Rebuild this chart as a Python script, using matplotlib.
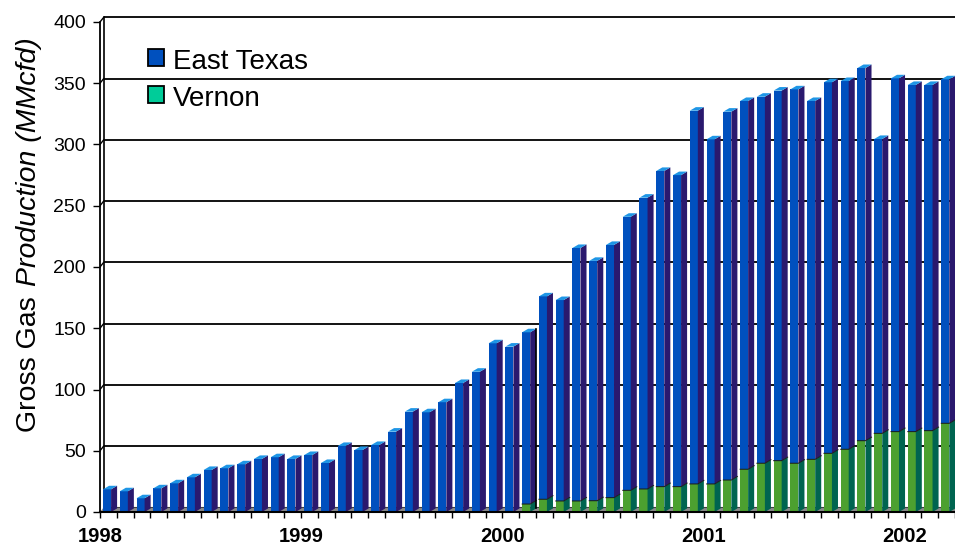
import matplotlib
matplotlib.use('Agg')
import matplotlib.pyplot as plt
from matplotlib.patches import Polygon, Rectangle
import numpy as np

plt.rcParams['font.family'] = ['Liberation Sans', 'DejaVu Sans']

# ---------------- data ----------------
years = ['1998', '1999', '2000', '2001', '2002']
year_index = [0, 12, 24, 36, 48]          # month index (Jan of each year)
y_ticks = [0, 50, 100, 150, 200, 250, 300, 350, 400]

# monthly gross gas production, Jan 1998 - Mar 2002 (MMcfd)
vernon = [0, 0, 0, 0, 0, 0, 0, 0, 0, 0, 0, 0,
          0, 0, 0, 0, 0, 0, 0, 0, 0, 0, 0, 0,
          0, 6.5, 10.4, 9, 9, 9.2, 11.7, 17.7, 18.8, 20.7, 20.7, 22.9,
          22.9, 26.1, 34.9, 39.8, 41.9, 39.8, 43, 47.9, 51.2, 58.2, 64.2, 65.6,
          65.6, 66.4, 72.4]
east_texas = [18.5, 16.9, 11.2, 19.3, 23.4, 28.3, 34.3, 35.7, 38.9, 43.3, 44.7, 43.3,
              46.5, 40, 53.9, 50.6, 54.7, 65.6, 81.9, 81.4, 89.6, 105.3, 114.5, 137.7,
              135, 140.2, 165.6, 164, 206.5, 195.8, 206.3, 223.3, 237.8, 257.7, 254.3, 304.7,
              281.3, 300.7, 300.6, 299.2, 302.1, 305.2, 292.5, 302.9, 300.6, 304.2, 240.3, 288.4,
              283, 282.2, 280.8]

series_names = ['East Texas', 'Vernon']

# ---------------- style ----------------
BLUE = '#0050BE'
BLUE_SIDE = '#2A196E'
BLUE_TOP = '#1E96E6'
GREEN = '#4CA030'
GREEN_SIDE = '#006450'
LEG_BLUE = '#0050BE'
LEG_TEAL = '#00CC99'

W, H = 955, 545
fig = plt.figure(figsize=(W / 100, H / 100), dpi=100)

PX_PER_UNIT = 1.225
Y0_PX = 512
YMAX = 405
ax = fig.add_axes([100 / W, (H - Y0_PX) / H, 855 / W, YMAX * PX_PER_UNIT / H])

n = len(east_texas)
ax.set_xlim(0, n)
ax.set_ylim(0, YMAX)

# 3D offsets (data units)
dx, dy = 0.36, 2.9          # bar depth
dxw, dyw = 0.22, 3.8        # wall / floor depth

# back wall gridlines
for v in y_ticks[1:]:
    ax.plot([dxw, n + 1], [v + dyw, v + dyw], color='black', lw=1.3, zorder=1,
            solid_capstyle='butt', clip_on=True)
    ax.plot([0, dxw], [v, v + dyw], color='black', lw=1.0, zorder=1)
ax.plot([dxw, dxw], [dyw, 400 + dyw], color='black', lw=1.2, zorder=1)

# floor
floor = Polygon([(0, 0), (n + 1, 0), (n + 1 + dxw, dyw), (dxw, dyw)], closed=True,
                facecolor='#8a8a8a', edgecolor='none', zorder=1.5)
ax.add_patch(floor)
ax.plot([dxw, n + 1], [dyw, dyw], color='#404040', lw=0.8, zorder=1.6)

# bars
x_left = np.arange(n) + 0.18
bw = 0.48
vern = np.array(vernon, dtype=float)
et = np.array(east_texas, dtype=float)
tot = vern + et

ax.bar(x_left, vern, width=bw, align='edge', color=GREEN, zorder=3, linewidth=0)
ax.bar(x_left, et, bottom=vern, width=bw, align='edge', color=BLUE, zorder=3, linewidth=0)

for k in range(n):
    xl = x_left[k]
    xr = xl + bw
    g = vern[k]
    t = tot[k]
    if g > 0:
        ax.add_patch(Polygon([(xr, 0), (xr, g), (xr + dx, g + dy), (xr + dx, dy)],
                             closed=True, facecolor=GREEN_SIDE, edgecolor='none', zorder=3))
    ax.add_patch(Polygon([(xr, g), (xr, t), (xr + dx, t + dy), (xr + dx, g + dy)],
                         closed=True, facecolor=BLUE_SIDE, edgecolor='none', zorder=3))
    ax.add_patch(Polygon([(xl, t), (xr, t), (xr + dx, t + dy), (xl + dx, t + dy)],
                         closed=True, facecolor=BLUE_TOP, edgecolor='none', zorder=3))
    if g > 0:
        ax.plot([xl, xr, xr + dx], [g, g, g + dy], color='#1a1a1a', lw=0.7, zorder=3.5)

# dark edge visible on one bar in the original
k = 25
ax.plot([x_left[k] + bw + dx, x_left[k] + bw + dx], [dy, tot[k] + dy], color='black', lw=1.2, zorder=3.6)

# axes styling
for s in ['top', 'right']:
    ax.spines[s].set_visible(False)
ax.spines['left'].set_bounds(0, 400)
ax.spines['left'].set_linewidth(1.3)
ax.spines['bottom'].set_linewidth(1.5)
ax.spines['bottom'].set_zorder(4)

ax.set_yticks(y_ticks)
ax.set_yticklabels([str(v) for v in y_ticks], fontsize=14)
ax.tick_params(axis='y', direction='out', length=5, width=1, pad=5)

ax.set_xticks(np.arange(0, n + 1))
labels = [''] * (n + 1)
for i, y in zip(year_index, years):
    labels[i] = y
ax.set_xticklabels(labels, fontsize=14.5, fontweight='bold')
ax.tick_params(axis='x', direction='out', length=4.5, width=1, pad=6)
for t in ax.get_xticklines():
    t.set_clip_on(False)

# legend (manual)
def fx(px):
    return px / W

def fy(py):
    return 1 - py / H

for (name, col, top, base) in [(series_names[0], LEG_BLUE, 49, 69), (series_names[1], LEG_TEAL, 86, 106)]:
    fig.add_artist(Rectangle((fx(148), fy(top + 17)), 16 / W, 17 / H, transform=fig.transFigure,
                             facecolor=col, edgecolor='black', lw=1.3))
    fig.text(fx(173), fy(base), name, fontsize=20, ha='left', va='baseline')

# y label: upright + italic parts
t1 = fig.text(fx(36), fy(432), 'Gross Gas ', fontsize=20.5, rotation=90,
              rotation_mode='anchor', ha='left', va='baseline')
fig.canvas.draw()
bb = t1.get_window_extent()
fig.text(fx(36), (bb.y1 + 2) / H, 'Production (MMcfd)', fontsize=20.5, rotation=90,
         rotation_mode='anchor', ha='left', va='baseline', style='italic')

fig.savefig('out.png', dpi=100)
